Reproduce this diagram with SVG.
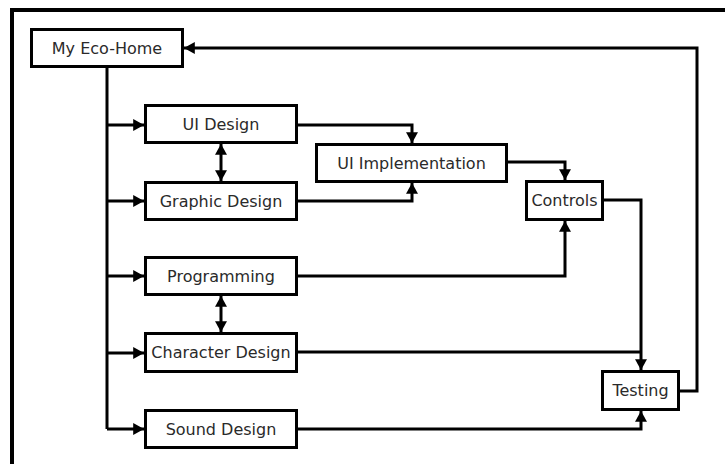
<svg xmlns="http://www.w3.org/2000/svg" width="725" height="464" viewBox="0 0 725 464">
<style>
.box{fill:#fff;stroke:#000;stroke-width:3}
.lbl{font-family:"DejaVu Sans",Verdana,sans-serif;font-size:16px;fill:#2a2a2a;text-anchor:middle;dominant-baseline:central}
.c{fill:none;stroke:#000;stroke-width:3}
</style>
<defs>
<marker id="ah" markerUnits="userSpaceOnUse" markerWidth="12" markerHeight="12" refX="9" refY="5" orient="auto-start-reverse" viewBox="0 0 10 10">
<path d="M0,0 L9,5 L0,10 Z" fill="#000"/>
</marker>
</defs>
<rect x="0" y="0" width="725" height="464" fill="#fff"/>
<rect x="12" y="10" width="740" height="480" fill="none" stroke="#000" stroke-width="4"/>
<g id="connectors">
<path class="c" d="M107,67 V429"/>
<path class="c" d="M107,125 H144" marker-end="url(#ah)"/>
<path class="c" d="M107,201 H144" marker-end="url(#ah)"/>
<path class="c" d="M107,276 H144" marker-end="url(#ah)"/>
<path class="c" d="M107,353 H144" marker-end="url(#ah)"/>
<path class="c" d="M107,429 H144" marker-end="url(#ah)"/>
<path class="c" d="M221,144 V181" marker-start="url(#ah)" marker-end="url(#ah)"/>
<path class="c" d="M221,296 V332" marker-start="url(#ah)" marker-end="url(#ah)"/>
<path class="c" d="M298,125 H412 V143" marker-end="url(#ah)"/>
<path class="c" d="M298,201 H412 V183" marker-end="url(#ah)"/>
<path class="c" d="M508,162 H565 V180" marker-end="url(#ah)"/>
<path class="c" d="M298,276 H565 V221" marker-end="url(#ah)"/>
<path class="c" d="M604,200 H641 V370" marker-end="url(#ah)"/>
<path class="c" d="M298,352 H641"/>
<path class="c" d="M298,429 H641 V411" marker-end="url(#ah)"/>
<path class="c" d="M680,391 H697 V48 H184" marker-end="url(#ah)"/>
</g>
<g id="my-eco-home"><rect class="box" x="31.5" y="29.5" width="151" height="37"/><text class="lbl" x="107" y="48">My Eco-Home</text></g>
<g id="ui-design"><rect class="box" x="145.5" y="105.5" width="151" height="37"/><text class="lbl" x="221" y="124">UI Design</text></g>
<g id="graphic-design"><rect class="box" x="145.5" y="182.5" width="151" height="37"/><text class="lbl" x="221" y="201">Graphic Design</text></g>
<g id="programming"><rect class="box" x="145.5" y="257.5" width="151" height="37"/><text class="lbl" x="221" y="276">Programming</text></g>
<g id="character-design"><rect class="box" x="145.5" y="333.5" width="151" height="38"/><text class="lbl" x="221" y="352.5">Character Design</text></g>
<g id="sound-design"><rect class="box" x="145.5" y="410.5" width="151" height="37"/><text class="lbl" x="221" y="429">Sound Design</text></g>
<g id="ui-implementation"><rect class="box" x="316.5" y="144.5" width="190" height="37"/><text class="lbl" x="411.5" y="163">UI Implementation</text></g>
<g id="controls"><rect class="box" x="526.5" y="181.5" width="76" height="38"/><text class="lbl" x="564.5" y="200.5">Controls</text></g>
<g id="testing"><rect class="box" x="602.5" y="371.5" width="76" height="38"/><text class="lbl" x="640.5" y="390.5">Testing</text></g>
</svg>
